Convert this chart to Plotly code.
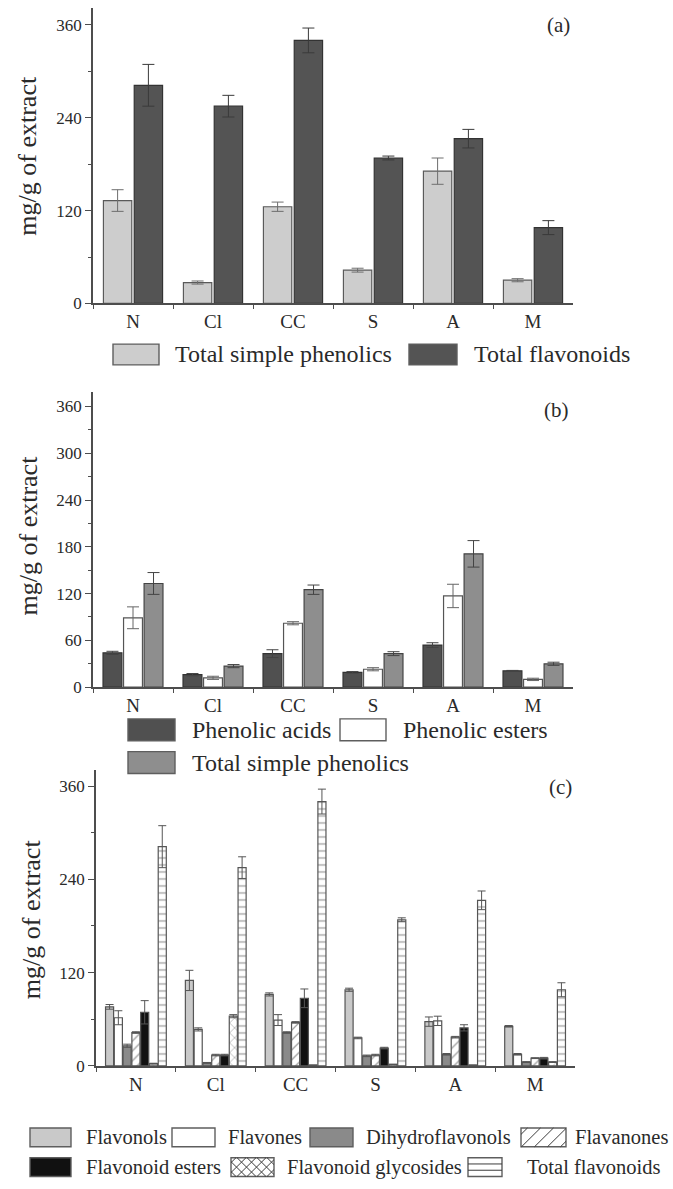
import plotly.graph_objects as go
from plotly.subplots import make_subplots

W, H = 673, 1189

samples = ["N", "Cl", "CC", "S", "A", "M"]

# (a) totals, mg/g of extract
total_simple_phenolics = [133, 27, 125, 43, 171, 30]
total_simple_phenolics_err = [14, 2, 6, 2.5, 17, 2]
total_flavonoids = [282, 255, 340, 188, 213, 98]
total_flavonoids_err = [27, 14, 16, 2.5, 12, 9]

# (b) simple phenolics
phenolic_acids = [44, 16, 43, 19, 54, 21]
phenolic_acids_err = [2, 1.5, 5, 1, 3, 0.5]
phenolic_esters = [89, 12, 82, 23, 117, 10]
phenolic_esters_err = [14, 2, 2, 2, 15, 1.5]

# (c) flavonoid classes
flavonols = [76, 110, 92, 98, 57, 51]
flavonols_err = [3, 13, 2, 2, 6, 1]
flavones = [62, 47, 59, 36, 58, 15]
flavones_err = [9, 2, 7, 1, 6, 1]
dihydroflavonols = [26, 4, 43, 13, 15, 5]
dihydroflavonols_err = [2, 0.5, 1, 1, 1, 0.5]
flavanones = [43, 14, 56, 14, 37, 10]
flavanones_err = [1, 1, 1, 1, 1, 0.5]
flavonoid_esters = [69, 14, 87, 23, 49, 10]
flavonoid_esters_err = [15, 1, 12, 1, 4, 1]
flavonoid_glycosides = [3, 64, 1, 2, 1, 5]
flavonoid_glycosides_err = [0.5, 2, 0, 0, 0, 0.5]

FONT = "Liberation Serif"
AXIS = "#4d4d4d"
TEXT = "#2a2a2a"


def px(x, y):
    return x / W, 1 - y / H


fig = make_subplots(rows=3, cols=1)


def add_bars(row, name, y, err, fill, line="#4a4a4a", pattern=None, err_color="#444444", cap=6):
    marker = dict(color=fill, line=dict(color=line, width=1.2))
    if pattern:
        marker["pattern"] = dict(shape=pattern, fgcolor="#3c3c3c", bgcolor=fill, size=7, solidity=0.18)
    fig.add_trace(go.Bar(
        x=samples, y=y, name=name, marker=marker, showlegend=False,
        error_y=dict(type="data", array=err, color=err_color, thickness=1, width=cap),
    ), row=row, col=1)


add_bars(1, "Total simple phenolics", total_simple_phenolics, total_simple_phenolics_err, "#cdcdcd", "#5a5a5a", err_color="#6e6e6e")
add_bars(1, "Total flavonoids", total_flavonoids, total_flavonoids_err, "#545454", "#333333", err_color="#3a3a3a")

add_bars(2, "Phenolic acids", phenolic_acids, phenolic_acids_err, "#505050", "#333333")
add_bars(2, "Phenolic esters", phenolic_esters, phenolic_esters_err, "#ffffff", "#555555", err_color="#666666")
add_bars(2, "Total simple phenolics", total_simple_phenolics, total_simple_phenolics_err, "#8e8e8e", "#444444")

c_series = [
    ("Flavonols", flavonols, flavonols_err, "#c9c9c9", None),
    ("Flavones", flavones, flavones_err, "#ffffff", None),
    ("Dihydroflavonols", dihydroflavonols, dihydroflavonols_err, "#8a8a8a", None),
    ("Flavanones", flavanones, flavanones_err, "#ffffff", "/"),
    ("Flavonoid esters", flavonoid_esters, flavonoid_esters_err, "#111111", None),
    ("Flavonoid glycosides", flavonoid_glycosides, flavonoid_glycosides_err, "#ffffff", "x"),
    ("Total flavonoids", total_flavonoids, total_flavonoids_err, "#ffffff", "-"),
]
for name, vals, errs, fill, pat in c_series:
    add_bars(3, name, vals, errs, fill, "#555555", pattern=pat, err_color="#555555", cap=4)

panels = [
    # x0, x1, ytop, ybottom, ymax, dtick, minor
    (93, 573, 8, 306, 382, 120, 60),
    (93, 573, 395, 693, 379, 60, 30),
    (96, 575, 777, 1075, 380, 120, 60),
]
for i, (x0, x1, yt, yb, ymax, dt, mdt) in enumerate(panels, start=1):
    fig.update_xaxes(
        domain=[x0 / W, x1 / W], type="category", showline=True, linecolor=AXIS, linewidth=1.5,
        ticks="outside", tickson="boundaries", ticklen=4, tickcolor=AXIS, tickwidth=1.2,
        tickfont=dict(family=FONT, size=19, color=TEXT), showgrid=False, row=i, col=1)
    fig.update_yaxes(
        domain=[1 - yb / H, 1 - yt / H], range=[0, ymax], dtick=dt, tick0=0,
        showline=True, linecolor=AXIS, linewidth=1.5, ticks="outside", ticklen=6,
        tickcolor=AXIS, tickwidth=1.2, tickfont=dict(family=FONT, size=17, color=TEXT),
        minor=dict(dtick=mdt, tick0=0, ticks="outside", ticklen=3.5, tickcolor=AXIS),
        showgrid=False, zeroline=False, row=i, col=1)

shapes = []
annotations = []


def text(x, y, s, size, anchor="left", angle=0):
    X, Y = px(x, y)
    annotations.append(dict(
        x=X, y=Y, xref="paper", yref="paper", text=s, showarrow=False,
        xanchor=anchor, yanchor="middle", textangle=angle,
        font=dict(family=FONT, size=size, color=TEXT)))


def seg(xa, ya, xb, yb, color="#3c3c3c"):
    A, B = px(xa, ya), px(xb, yb)
    shapes.append(dict(type="line", xref="paper", yref="paper", x0=A[0], y0=A[1],
                       x1=B[0], y1=B[1], line=dict(color=color, width=1)))


def hatch(x0, y0, x1, y1, kind, step):
    if kind in ("/", "x"):
        c = x0 + y0 + step / 2
        while c < x1 + y1:
            xa, xb = max(x0, c - y1), min(x1, c - y0)
            if xb > xa:
                seg(xa, c - xa, xb, c - xb)
            c += step
    if kind == "x":
        c = x0 - y1 + step / 2
        while c < x1 - y0:
            xa, xb = max(x0, c + y0), min(x1, c + y1)
            if xb > xa:
                seg(xa, xa - c, xb, xb - c)
            c += step
    if kind == "-":
        for f in (1 / 3, 2 / 3):
            seg(x0, y0 + (y1 - y0) * f, x1, y0 + (y1 - y0) * f)


def key(x0, y0, x1, y1, fill, kind=None, step=12):
    A, B = px(x0, y0), px(x1, y1)
    shapes.append(dict(type="rect", xref="paper", yref="paper", x0=A[0], y0=B[1],
                       x1=B[0], y1=A[1], fillcolor=fill, line=dict(color="#5e5e5e", width=1.4)))
    if kind:
        hatch(x0, y0, x1, y1, kind, step)


# y titles and panel tags
for xc, yc in [(28, 157), (28, 540), (31, 927)]:
    text(xc, yc, "mg/g of extract", 26, anchor="center", angle=-90)
text(558, 25, "(a)", 21, anchor="center")
text(556, 413, "(b)", 21, anchor="center")
text(560, 794, "(c)", 21, anchor="center")

# legend (a)
key(113, 347, 159, 368, "#cdcdcd")
text(173, 357, "Total simple phenolics", 24)
key(409, 347, 457, 368, "#545454")
text(472, 357, "Total flavonoids", 24)

# legend (b)
key(128, 725, 175, 747, "#505050")
text(190, 736, "Phenolic acids", 24)
key(340, 725, 386, 747, "#ffffff")
text(401, 736, "Phenolic esters", 24)
key(128, 758, 175, 780, "#8e8e8e")
text(190, 769, "Total simple phenolics", 24)

# legend (c)
row1 = [(30, 71, "Flavonols", 84), (172, 215, "Flavones", 226),
        (310, 353, "Dihydroflavonols", 364), (521, 566, "Flavanones", 573)]
row2 = [(30, 71, "Flavonoid esters", 84), (231, 274, "Flavonoid glycosides", 285),
        (468, 502, "Total flavonoids", 525)]
styles = {name: (fill, pat) for name, _, _, fill, pat in c_series}
for (xa, xb, name, tx), yc in [(r, 1147) for r in row1] + [(r, 1177) for r in row2]:
    fill, pat = styles[name]
    key(xa, yc - 9.5, xb, yc + 9.5, fill, pat, step=13 if pat == "/" else 10)
    text(tx, yc, name, 20.5)

fig.update_layout(
    width=W, height=H, margin=dict(l=0, r=0, t=0, b=0),
    paper_bgcolor="white", plot_bgcolor="white",
    barmode="group", bargap=0.23, bargroupgap=0.08,
    font=dict(family=FONT, color=TEXT),
    shapes=shapes, annotations=annotations, showlegend=False,
)

# drop the default page margin so the figure sits at the window's corner
fig.write_html("out.html", config={"displayModeBar": False},
               post_script="document.body.style.margin='0';")
